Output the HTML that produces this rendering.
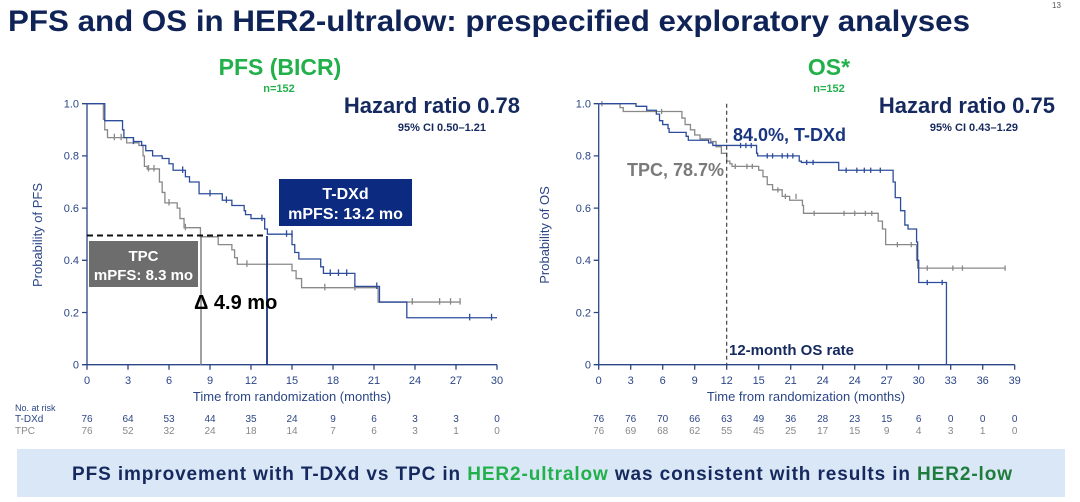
<!DOCTYPE html>
<html><head><meta charset="utf-8"><style>
html,body{margin:0;padding:0;background:#fff;}
svg{display:block;font-family:"Liberation Sans",Arial,sans-serif;}
</style></head><body>
<svg width="1080" height="502" viewBox="0 0 1080 502" xmlns="http://www.w3.org/2000/svg">
<rect width="1080" height="502" fill="#fff"/>
<text x="8" y="31" font-size="30" font-weight="bold" fill="#0f2357" textLength="962" lengthAdjust="spacingAndGlyphs">PFS and OS in HER2-ultralow: prespecified exploratory analyses</text>
<text x="1052" y="8" font-size="8" fill="#555">13</text>

<text x="280" y="75" font-size="23" font-weight="bold" fill="#22b04b" text-anchor="middle">PFS (BICR)</text>
<text x="279" y="92" font-size="11" font-weight="bold" fill="#22b04b" text-anchor="middle">n=152</text>
<text x="829" y="75" font-size="23" font-weight="bold" fill="#22b04b" text-anchor="middle">OS*</text>
<text x="829" y="92" font-size="11" font-weight="bold" fill="#22b04b" text-anchor="middle">n=152</text>

<text x="520" y="113" font-size="22" font-weight="bold" fill="#15295e" text-anchor="end">Hazard ratio 0.78</text>
<text x="486" y="131" font-size="11" font-weight="bold" fill="#15295e" text-anchor="end">95%  CI 0.50–1.21</text>
<text x="1055" y="113" font-size="22" font-weight="bold" fill="#15295e" text-anchor="end">Hazard ratio 0.75</text>
<text x="1018" y="131" font-size="11" font-weight="bold" fill="#15295e" text-anchor="end">95%  CI 0.43–1.29</text>

<!-- LEFT AXES -->
<g stroke="#2b4687" stroke-width="1.3" fill="none">
<path d="M87 103.7 V364.7 H497"/>
<path d="M82 103.7H87M82 155.9H87M82 208.1H87M82 260.3H87M82 312.5H87M82 364.7H87"/>
<path d="M87 364.7v5M128 364.7v5M169 364.7v5M210 364.7v5M251 364.7v5M292 364.7v5M333 364.7v5M374 364.7v5M415 364.7v5M456 364.7v5M497 364.7v5"/>
</g>
<g font-size="11" fill="#2b4687" text-anchor="end">
<text x="79" y="107.5">1.0</text><text x="79" y="159.7">0.8</text><text x="79" y="211.9">0.6</text><text x="79" y="264.1">0.4</text><text x="79" y="316.3">0.2</text><text x="79" y="368.5">0</text>
</g>
<g font-size="11" fill="#2b4687" text-anchor="middle">
<text x="87" y="384">0</text><text x="128" y="384">3</text><text x="169" y="384">6</text><text x="210" y="384">9</text><text x="251" y="384">12</text><text x="292" y="384">15</text><text x="333" y="384">18</text><text x="374" y="384">21</text><text x="415" y="384">24</text><text x="456" y="384">27</text><text x="497" y="384">30</text>
</g>
<text x="292" y="401" font-size="13" fill="#2b4687" text-anchor="middle">Time from randomization (months)</text>
<text transform="translate(42,235) rotate(-90)" font-size="13" fill="#2b4687" text-anchor="middle">Probability of PFS</text>

<g transform="translate(87,364.7) scale(13.667,-261)" fill="none" stroke-width="1.3">
<path vector-effect="non-scaling-stroke" stroke="#888" d="M0 1H1.2V0.94H1.3V0.9H1.5V0.87H2.9V0.85H3.8V0.84H4.1V0.8H4.2V0.76H4.4V0.75H5.3V0.7H5.5V0.66H5.7V0.62H6.6V0.6H6.8V0.56H7.1V0.525H8.3V0.49H9.6V0.46H10.6V0.44H10.8V0.41H11V0.385H15V0.36H15.3V0.33H15.7V0.295H21.3V0.24H27.3"/>
<path vector-effect="non-scaling-stroke" stroke="#888" d="M2 0.86V0.885M2.5 0.86V0.885M4.5 0.74V0.765M4.9 0.74V0.765M6 0.61V0.635M7.2 0.515V0.54M11.7 0.375V0.4M13.2 0.375V0.4M17.4 0.285V0.31M19.6 0.285V0.31M23.8 0.23V0.255M25.8 0.23V0.255M26.6 0.23V0.255M27.3 0.23V0.255"/>
<path vector-effect="non-scaling-stroke" stroke="#2d4c9c" d="M0 1H1.3V0.935H2.6V0.9H2.7V0.87H3.4V0.855H4V0.84H4.3V0.82H4.8V0.8H5.5V0.79H6V0.77H6.3V0.745H7.2V0.72H7.5V0.7H8.2V0.655H9.9V0.63H10.6V0.61H11.5V0.59H11.6V0.575H12V0.56H13V0.52H13.2V0.5H15V0.46H15.2V0.43H15.5V0.405H17.1V0.375H17.3V0.35H19.6V0.3H21.4V0.24H23.4V0.18H30"/>
<path vector-effect="non-scaling-stroke" stroke="#2d4c9c" d="M3.4 0.845V0.87M7 0.735V0.76M9 0.645V0.67M10.2 0.62V0.645M12.8 0.55V0.575M14.6 0.49V0.515M15 0.49V0.515M17.8 0.34V0.365M18.4 0.34V0.365M19 0.34V0.365M21.2 0.29V0.315M28 0.17V0.195M29.6 0.17V0.195"/>
</g>
<path d="M87 235.5H267" stroke="#111" stroke-width="2" stroke-dasharray="6,4"/>
<path d="M201 237V364.7" stroke="#888" stroke-width="1.6"/>
<path d="M267 236V364.7" stroke="#1a3580" stroke-width="1.8"/>
<rect x="279" y="179" width="133" height="47" fill="#0c2a80"/>
<text x="345.5" y="199" font-size="16" font-weight="bold" fill="#fff" text-anchor="middle">T-DXd</text>
<text x="345.5" y="219" font-size="16" font-weight="bold" fill="#fff" text-anchor="middle">mPFS: 13.2 mo</text>
<rect x="89" y="241" width="109" height="46" fill="#6d6d6d"/>
<text x="143.5" y="261" font-size="15" font-weight="bold" fill="#fff" text-anchor="middle">TPC</text>
<text x="143.5" y="280" font-size="15" font-weight="bold" fill="#fff" text-anchor="middle">mPFS: 8.3 mo</text>
<text x="194" y="309" font-size="20" font-weight="bold" fill="#000">Δ 4.9 mo</text>

<!-- RIGHT AXES -->
<g stroke="#2b4687" stroke-width="1.3" fill="none">
<path d="M598.7 103.7 V364.7 H1014.7"/>
<path d="M593.7 103.7H598.7M593.7 155.9H598.7M593.7 208.1H598.7M593.7 260.3H598.7M593.7 312.5H598.7M593.7 364.7H598.7"/>
<path d="M598.7 364.7v5M630.7 364.7v5M662.7 364.7v5M694.7 364.7v5M726.7 364.7v5M758.7 364.7v5M790.7 364.7v5M822.7 364.7v5M854.7 364.7v5M886.7 364.7v5M918.7 364.7v5M950.7 364.7v5M982.7 364.7v5M1014.7 364.7v5"/>
</g>
<g font-size="11" fill="#2b4687" text-anchor="end">
<text x="591" y="107.5">1.0</text><text x="591" y="159.7">0.8</text><text x="591" y="211.9">0.6</text><text x="591" y="264.1">0.4</text><text x="591" y="316.3">0.2</text><text x="591" y="368.5">0</text>
</g>
<g font-size="11" fill="#2b4687" text-anchor="middle">
<text x="598.7" y="384">0</text><text x="630.7" y="384">3</text><text x="662.7" y="384">6</text><text x="694.7" y="384">9</text><text x="726.7" y="384">12</text><text x="758.7" y="384">15</text><text x="790.7" y="384">21</text><text x="822.7" y="384">24</text><text x="854.7" y="384">24</text><text x="886.7" y="384">27</text><text x="918.7" y="384">30</text><text x="950.7" y="384">33</text><text x="982.7" y="384">36</text><text x="1014.7" y="384">39</text>
</g>
<text x="806" y="401" font-size="13" fill="#2b4687" text-anchor="middle">Time from randomization (months)</text>
<text transform="translate(549,235) rotate(-90)" font-size="13" fill="#2b4687" text-anchor="middle">Probability of OS</text>

<g transform="translate(598.7,364.7) scale(10.667,-261)" fill="none" stroke-width="1.3">
<path vector-effect="non-scaling-stroke" stroke="#888" d="M0 1H2V0.985H2.3V0.97H7.8V0.945H8.1V0.92H8.6V0.9H9V0.88H9.5V0.865H10.5V0.855H11V0.835H11.5V0.81H12V0.78H12.3V0.77H12.5V0.76H15V0.745H15.4V0.72H15.8V0.69H16.3V0.67H17.2V0.645H17.9V0.63H19.1V0.61H19.2V0.58H26.2V0.55H26.6V0.52H26.9V0.46H29.8V0.4H29.9V0.37H38.1"/>
<path vector-effect="non-scaling-stroke" stroke="#888" d="M0.3 0.99V1.01M5.9 0.96V0.98M12.8 0.75V0.77M13.9 0.75V0.77M14.4 0.75V0.77M16.8 0.66V0.68M17.5 0.635V0.655M18.5 0.635V0.655M20.2 0.57V0.59M23 0.57V0.59M24 0.57V0.59M25 0.57V0.59M25.6 0.57V0.59M28 0.45V0.47M29.3 0.45V0.47M30.8 0.36V0.38M33.2 0.36V0.38M34.1 0.36V0.38M38.1 0.36V0.38"/>
<path vector-effect="non-scaling-stroke" stroke="#2d4c9c" d="M0 1H3.5V0.99H4.5V0.975H5.4V0.96H5.7V0.935H6V0.92H6.5V0.905H6.6V0.89H8.2V0.875H8.4V0.86H10.3V0.85H10.7V0.84H14.8V0.81H14.9V0.8H18.8V0.78H19V0.775H22.5V0.745H27.6V0.7H27.8V0.64H28.3V0.59H28.7V0.535H29V0.52H29.8V0.47H29.9V0.4H30V0.315H32.6V0"/>
<path vector-effect="non-scaling-stroke" stroke="#2d4c9c" d="M13.3 0.83V0.85M13.8 0.83V0.85M14.3 0.83V0.85M15.8 0.79V0.81M16.3 0.79V0.81M17.2 0.79V0.81M17.7 0.79V0.81M18.2 0.79V0.81M19.5 0.765V0.785M20.1 0.765V0.785M23.2 0.735V0.755M24.2 0.735V0.755M24.9 0.735V0.755M25.5 0.735V0.755M26.4 0.735V0.755M30.8 0.305V0.325M32.2 0.305V0.325"/>
</g>
<path d="M726.7 103.7V364.7" stroke="#333" stroke-width="1.1" stroke-dasharray="4,3"/>
<text x="733" y="141" font-size="18" font-weight="bold" fill="#1a3580">84.0%, T-DXd</text>
<text x="724" y="176" font-size="18" font-weight="bold" fill="#7a7a7a" text-anchor="end">TPC, 78.7%</text>
<text x="729" y="355" font-size="15" font-weight="bold" fill="#15295e">12-month OS rate</text>

<!-- RISK TABLE -->
<text x="15" y="411" font-size="9" fill="#2b4687">No. at risk</text>
<text x="15" y="422" font-size="10" fill="#2b4687">T-DXd</text>
<text x="15" y="434" font-size="10" fill="#888">TPC</text>
<g font-size="10" fill="#2b4687" text-anchor="middle">
<text x="87" y="422">76</text><text x="128" y="422">64</text><text x="169" y="422">53</text><text x="210" y="422">44</text><text x="251" y="422">35</text><text x="292" y="422">24</text><text x="333" y="422">9</text><text x="374" y="422">6</text><text x="415" y="422">3</text><text x="456" y="422">3</text><text x="497" y="422">0</text>
<text x="598.7" y="422">76</text><text x="630.7" y="422">76</text><text x="662.7" y="422">70</text><text x="694.7" y="422">66</text><text x="726.7" y="422">63</text><text x="758.7" y="422">49</text><text x="790.7" y="422">36</text><text x="822.7" y="422">28</text><text x="854.7" y="422">23</text><text x="886.7" y="422">15</text><text x="918.7" y="422">6</text><text x="950.7" y="422">0</text><text x="982.7" y="422">0</text><text x="1014.7" y="422">0</text>
</g>
<g font-size="10" fill="#888" text-anchor="middle">
<text x="87" y="434">76</text><text x="128" y="434">52</text><text x="169" y="434">32</text><text x="210" y="434">24</text><text x="251" y="434">18</text><text x="292" y="434">14</text><text x="333" y="434">7</text><text x="374" y="434">6</text><text x="415" y="434">3</text><text x="456" y="434">1</text><text x="497" y="434">0</text>
<text x="598.7" y="434">76</text><text x="630.7" y="434">69</text><text x="662.7" y="434">68</text><text x="694.7" y="434">62</text><text x="726.7" y="434">55</text><text x="758.7" y="434">45</text><text x="790.7" y="434">25</text><text x="822.7" y="434">17</text><text x="854.7" y="434">15</text><text x="886.7" y="434">9</text><text x="918.7" y="434">4</text><text x="950.7" y="434">3</text><text x="982.7" y="434">1</text><text x="1014.7" y="434">0</text>
</g>

<!-- BANNER -->
<rect x="17" y="449" width="1048" height="48" fill="#dae7f7"/>
<text x="72" y="480" font-size="19" font-weight="bold" fill="#15295e" textLength="940" lengthAdjust="spacing">PFS improvement with T-DXd vs TPC in <tspan fill="#22b04b">HER2-ultralow</tspan> was consistent with results in <tspan fill="#1e7d3c">HER2-low</tspan></text>
</svg>
</body></html>
